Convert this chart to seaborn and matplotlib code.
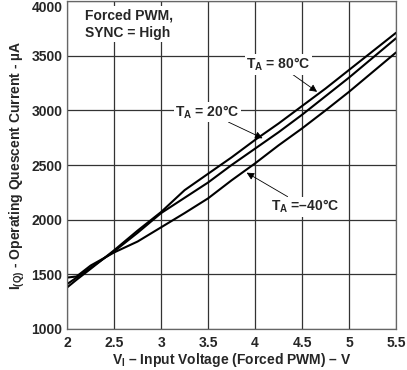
import matplotlib
matplotlib.use("Agg")
import matplotlib.pyplot as plt
import seaborn as sns
import pandas as pd

# input voltage (V)
voltage = [2.0, 2.1, 2.25, 2.5, 2.75, 3.0, 3.25, 3.5, 3.75, 4.0, 4.25, 4.5, 4.75, 5.0, 5.25, 5.5]

# operating quiescent current (uA) per ambient temperature
iq_80 = [1380, 1450, 1550, 1720, 1900, 2070, 2270, 2420, 2570, 2730, 2880, 3040, 3200, 3370, 3540, 3710]
iq_20 = [1410, 1470, 1560, 1710, 1880, 2060, 2200, 2340, 2500, 2650, 2800, 2960, 3130, 3300, 3480, 3660]
iq_m40 = [1470, 1480, 1580, 1700, 1800, 1930, 2060, 2195, 2360, 2515, 2680, 2835, 3000, 3170, 3350, 3530]

temps = ["80", "20", "-40"]

xticks = [2, 2.5, 3, 3.5, 4, 4.5, 5, 5.5]
xtick_labels = ["2", "2.5", "3", "3.5", "4", "4.5", "5", "5.5"]
yticks = [1000, 1500, 2000, 2500, 3000, 3500, 4000]

df = pd.concat([
    pd.DataFrame({"V": voltage, "I": iq_80, "T": "80"}),
    pd.DataFrame({"V": voltage, "I": iq_20, "T": "20"}),
    pd.DataFrame({"V": voltage, "I": iq_m40, "T": "-40"}),
])

sns.set_style("white")
plt.rcParams["font.family"] = ["Liberation Sans", "DejaVu Sans"]
plt.rcParams["font.weight"] = "bold"
plt.rcParams["mathtext.fontset"] = "custom"
plt.rcParams["mathtext.rm"] = "Liberation Sans:bold"
plt.rcParams["mathtext.it"] = "Liberation Sans:bold"
plt.rcParams["mathtext.default"] = "rm"

fs = 10

fig = plt.figure(figsize=(4.07, 3.70), dpi=100)
ax = fig.add_axes([0.165, 0.111, 0.808, 0.886])

sns.lineplot(
    data=df, x="V", y="I", hue="T", hue_order=temps,
    palette=["black", "black", "black"], linewidth=1.5,
    legend=False, ax=ax
)

ax.set_xlim(2, 5.5)
ax.set_ylim(1000, 4000)
ax.set_xticks(xticks)
ax.set_xticklabels(xtick_labels)
ax.set_yticks(yticks)
ax.grid(True, color="#333333", linewidth=0.9)
ax.set_axisbelow(True)
for s in ax.spines.values():
    s.set_color("#666666")
    s.set_linewidth(0.9)
ax.tick_params(axis="y", labelsize=fs, length=0, pad=3.5)
ax.tick_params(axis="x", labelsize=fs, length=0, pad=5)
for lab in ax.get_xticklabels() + ax.get_yticklabels():
    lab.set_fontweight("bold")
ax.get_yticklabels()[-1].set_va("top")

ax.set_xlabel(r"V$_I$ – Input Voltage (Forced PWM) – V", fontsize=fs, fontweight="bold", labelpad=1)
ax.set_ylabel(r"I$_{(Q)}$ - Operating Quescent Current - µA", fontsize=fs, fontweight="bold", labelpad=3)

ax.text(2.19, 3935, "Forced PWM,\nSYNC = High", fontsize=fs, fontweight="bold",
        va="top", ha="left", linespacing=1.35,
        bbox=dict(facecolor="white", edgecolor="none", pad=1.5))

box = dict(facecolor="white", edgecolor="none", pad=1)
arrow = dict(arrowstyle="-|>", color="black", lw=0.6, mutation_scale=11, shrinkA=0, shrinkB=0)

ax.annotate(r"T$_A$ = 80°C", xy=(4.66, 3170), xytext=(4.25, 3420),
            fontsize=fs, fontweight="bold", ha="center", va="center", bbox=box,
            arrowprops=arrow)
ax.annotate(r"T$_A$ = 20°C", xy=(4.08, 2745), xytext=(3.49, 2985),
            fontsize=fs, fontweight="bold", ha="center", va="center", bbox=box,
            arrowprops=arrow)
ax.annotate(r"T$_A$ =–40°C", xy=(3.91, 2430), xytext=(4.53, 2118),
            fontsize=fs, fontweight="bold", ha="center", va="center", bbox=box,
            arrowprops=arrow)

fig.savefig("out.png", dpi=100)
